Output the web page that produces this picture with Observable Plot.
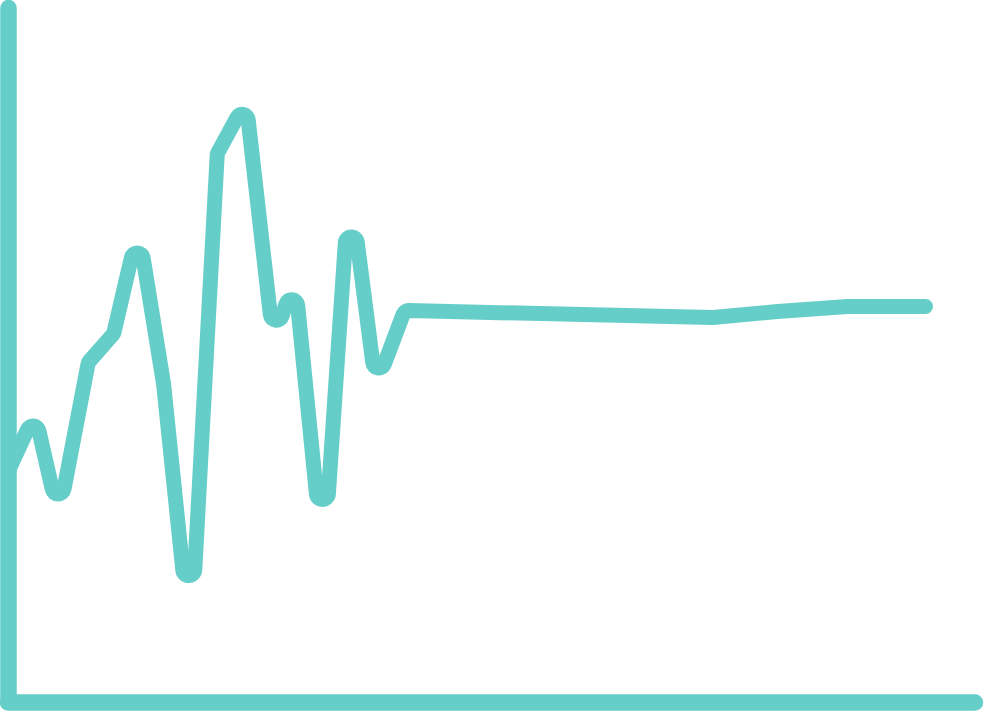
<!DOCTYPE html>
<html>
<head>
<meta charset="utf-8">
<script src="https://cdn.jsdelivr.net/npm/d3@7"></script>
<script src="https://cdn.jsdelivr.net/npm/@observablehq/plot@0.6"></script>
<style>
  html, body { margin: 0; padding: 0; background: #ffffff; }
  #chart svg { display: block; }
</style>
</head>
<body>
<div id="chart"></div>
<script>
// Series (x in data units, y in data units 0–100)
const xs = [0, 0.943, 1.887, 3.019, 3.962, 4.868, 5.849, 6.811, 7.887, 8.868, 10.038, 10.755, 11.849, 12.925, 13.943, 14.981, 26.566, 29.019, 31.660, 34.604];
const ys = [33.43, 39.84, 30.04, 48.99, 53.17, 64.77, 45.97, 18.30, 79.11, 84.73, 55.12, 58.00, 29.25, 67.07, 48.20, 56.34, 55.48, 56.34, 57.06, 57.06];
const xDomain = [0, 36.49];
const yDomain = [0, 100];

const data = xs.map((x, i) => ({x, y: ys[i]}));
const color = "#66cec9";

// Custom curve: polyline through the points with small rounded corners (radius R px)
function roundedPolyline(R) {
  return (context) => {
    let pts = [];
    return {
      areaStart() {}, areaEnd() {},
      lineStart() { pts = []; },
      point(x, y) { pts.push([+x, +y]); },
      lineEnd() {
        const n = pts.length;
        if (n === 0) return;
        if (n < 3) {
          context.moveTo(pts[0][0], pts[0][1]);
          for (let i = 1; i < n; i++) context.lineTo(pts[i][0], pts[i][1]);
          return;
        }
        const C = pts.map((p, i) => {
          if (i === 0 || i === n - 1) return {x: p[0], y: p[1], rho: 0};
          const a = pts[i - 1], b = pts[i + 1];
          let ux = a[0] - p[0], uy = a[1] - p[1]; const lu = Math.hypot(ux, uy);
          let vx = b[0] - p[0], vy = b[1] - p[1]; const lv = Math.hypot(vx, vy);
          if (lu < 1e-9 || lv < 1e-9) return {x: p[0], y: p[1], rho: 0};
          ux /= lu; uy /= lu; vx /= lv; vy /= lv;
          let bx = ux + vx, by = uy + vy; const lb = Math.hypot(bx, by);
          const cross = (p[0] - a[0]) * (b[1] - p[1]) - (p[1] - a[1]) * (b[0] - p[0]);
          if (lb < 1e-9 || Math.abs(cross) < 1e-9) return {x: p[0], y: p[1], rho: 0};
          bx /= lb; by /= lb;
          const r = Math.min(R, lu / 3, lv / 3);
          return {x: p[0] + bx * r, y: p[1] + by * r, rho: cross > 0 ? r : -r};
        });
        const segs = [];
        for (let i = 0; i < n - 1; i++) {
          const c1 = C[i], c2 = C[i + 1];
          const Dx = c2.x - c1.x, Dy = c2.y - c1.y, m = Math.hypot(Dx, Dy);
          const phi = Math.atan2(Dy, Dx);
          const delta = c2.rho - c1.rho;
          const alpha = phi - Math.asin(Math.max(-1, Math.min(1, delta / m)));
          const dx = Math.cos(alpha), dy = Math.sin(alpha);
          const Lx = -dy, Ly = dx;
          segs.push({
            x1: c1.x - c1.rho * Lx, y1: c1.y - c1.rho * Ly,
            x2: c2.x - c2.rho * Lx, y2: c2.y - c2.rho * Ly
          });
        }
        context.moveTo(segs[0].x1, segs[0].y1);
        for (let i = 0; i < n - 1; i++) {
          const s = segs[i];
          context.lineTo(s.x2, s.y2);
          if (i + 1 < n - 1) {
            const c = C[i + 1];
            if (c.rho !== 0) {
              const nx = segs[i + 1];
              const a0 = Math.atan2(s.y2 - c.y, s.x2 - c.x);
              const a1 = Math.atan2(nx.y1 - c.y, nx.x1 - c.x);
              context.arc(c.x, c.y, Math.abs(c.rho), a0, a1, c.rho < 0);
            }
          }
        }
      }
    };
  };
}

const chart = Plot.plot({
  width: 984,
  height: 711,
  marginLeft: 8,
  marginRight: 9,
  marginTop: 8,
  marginBottom: 9,
  x: {domain: xDomain, axis: null},
  y: {domain: yDomain, axis: null},
  style: {background: "#ffffff", overflow: "visible"},
  marks: [
    Plot.line(data, {x: "x", y: "y", curve: roundedPolyline(6), stroke: color, strokeWidth: 15, strokeLinejoin: "round", strokeLinecap: "round"}),
    Plot.ruleX([0], {stroke: color, strokeWidth: 16.5, strokeLinecap: "round"}),
    Plot.ruleY([0], {stroke: color, strokeWidth: 16.5, strokeLinecap: "round"})
  ]
});
document.getElementById("chart").appendChild(chart);
</script>
</body>
</html>
